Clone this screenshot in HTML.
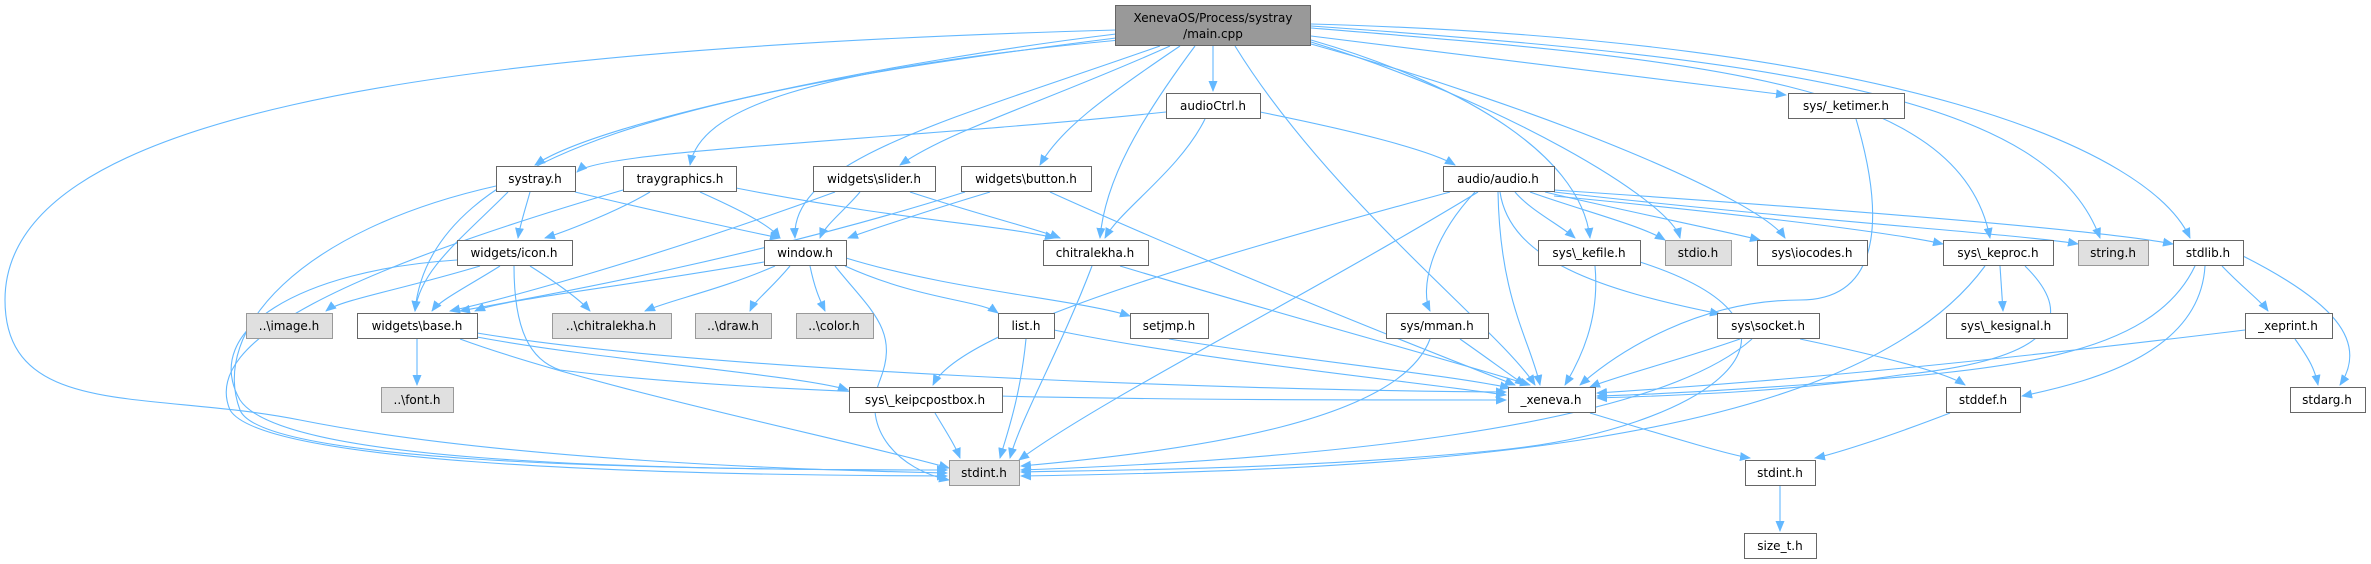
<!DOCTYPE html>
<html><head><meta charset="utf-8"><style>
html,body{margin:0;padding:0;background:#fff;}
svg{display:block;}
text{font-family:"DejaVu Sans","Liberation Sans",sans-serif;font-size:12px;fill:#000;}
.e{fill:none;stroke:#63b8ff;stroke-width:1.1;marker-end:url(#a);}
.n{fill:#fff;stroke:#666;stroke-width:1;}
.g{fill:#e0e0e0;stroke:#999;stroke-width:1;}
</style></head><body>
<svg width="2371" height="564" viewBox="0 0 2371 564" xmlns="http://www.w3.org/2000/svg">
<defs><marker id="a" markerWidth="11" markerHeight="9" refX="10" refY="4.5" orient="auto" markerUnits="userSpaceOnUse"><path d="M0,0 L11,4.5 L0,9z" fill="#63b8ff"/></marker></defs>
<g>
<path class="e" d="M1116,30 C400,50 5,120 5,300 C5,420 150,390 300,420 C500,460 800,470 947,473"/>
<path class="e" d="M1116,34 C900,60 600,120 535,165"/>
<path class="e" d="M1120,40 C800,70 700,110 690,165"/>
<path class="e" d="M1170,46 C1050,100 950,130 900,165"/>
<path class="e" d="M1180,46 C1100,100 1060,130 1040,165"/>
<path class="e" d="M1160,46 C950,120 790,160 795,238"/>
<path class="e" d="M1195,46 C1140,120 1105,180 1100,238"/>
<path class="e" d="M1213,46 L1213,91"/>
<path class="e" d="M1116,38 C700,90 430,150 415,311"/>
<path class="e" d="M1235,46 C1330,200 1500,330 1535,385"/>
<path class="e" d="M1311,40 C1450,80 1580,150 1590,238"/>
<path class="e" d="M1311,42 C1500,100 1670,200 1680,238"/>
<path class="e" d="M1311,44 C1550,110 1760,200 1785,238"/>
<path class="e" d="M1311,36 L1786,95"/>
<path class="e" d="M1311,28 C1700,60 1960,80 1990,238"/>
<path class="e" d="M1311,26 C1800,60 2050,100 2100,238"/>
<path class="e" d="M1311,24 C1900,40 2150,150 2190,238"/>
<path class="e" d="M1166,112 C900,140 600,150 577,172"/>
<path class="e" d="M1260,112 C1350,130 1430,150 1455,165"/>
<path class="e" d="M1205,119 C1180,170 1120,210 1105,238"/>
<path class="e" d="M530,192 C525,210 520,225 518,238"/>
<path class="e" d="M508,192 C460,240 420,270 415,311"/>
<path class="e" d="M575,192 C650,210 740,230 780,238"/>
<path class="e" d="M496,186 C300,230 210,330 240,410 C260,460 600,470 947,470"/>
<path class="e" d="M650,192 C620,210 570,230 545,238"/>
<path class="e" d="M700,192 C740,210 770,225 780,238"/>
<path class="e" d="M736,188 C900,220 1000,225 1055,238"/>
<path class="e" d="M623,190 C350,270 200,340 230,410 C260,460 600,475 947,476"/>
<path class="e" d="M860,192 C845,210 825,225 820,238"/>
<path class="e" d="M835,192 C650,260 500,300 450,311"/>
<path class="e" d="M910,192 C980,215 1040,230 1060,238"/>
<path class="e" d="M990,192 C930,210 870,230 848,238"/>
<path class="e" d="M965,192 C750,260 520,300 460,311"/>
<path class="e" d="M1050,192 C1200,260 1400,340 1515,385"/>
<path class="e" d="M480,266 C400,290 340,300 326,311"/>
<path class="e" d="M500,266 C470,285 440,300 432,311"/>
<path class="e" d="M530,266 C560,285 580,300 590,311"/>
<path class="e" d="M457,260 C300,270 200,330 240,400 C280,460 600,470 947,470"/>
<path class="e" d="M514,266 C514,330 530,360 560,370 C800,400 1200,400 1506,400"/>
<path class="e" d="M764,262 C600,290 500,300 475,311"/>
<path class="e" d="M775,266 C720,290 670,300 645,311"/>
<path class="e" d="M790,266 C770,290 755,300 750,311"/>
<path class="e" d="M810,266 C815,290 820,300 825,311"/>
<path class="e" d="M845,266 C920,300 980,300 998,313"/>
<path class="e" d="M846,258 C950,290 1080,300 1130,316"/>
<path class="e" d="M835,266 C870,310 900,330 880,380 C860,430 900,470 949,480"/>
<path class="e" d="M1092,266 C1060,350 1020,420 1010,458"/>
<path class="e" d="M1120,266 C1300,320 1450,360 1530,385"/>
<path class="e" d="M417,339 L417,385"/>
<path class="e" d="M460,339 C600,390 850,440 949,468"/>
<path class="e" d="M477,333 C700,370 1200,390 1506,392"/>
<path class="e" d="M477,337 C600,360 800,375 848,390"/>
<path class="e" d="M1026,339 C1020,400 1005,440 1000,458"/>
<path class="e" d="M1054,330 C1200,360 1400,380 1506,395"/>
<path class="e" d="M1169,339 C1300,360 1450,375 1510,388"/>
<path class="e" d="M935,413 C945,430 955,445 960,458"/>
<path class="e" d="M1450,192 C1200,260 960,330 933,385"/>
<path class="e" d="M1478,192 C1300,300 1100,400 1019,460"/>
<path class="e" d="M1475,192 C1430,240 1420,290 1430,311"/>
<path class="e" d="M1498,192 C1500,300 1530,340 1540,385"/>
<path class="e" d="M1500,192 C1510,260 1600,290 1720,314"/>
<path class="e" d="M1515,192 C1530,210 1560,225 1575,238"/>
<path class="e" d="M1530,192 C1580,210 1640,225 1665,240"/>
<path class="e" d="M1545,192 C1620,210 1720,230 1760,240"/>
<path class="e" d="M1554,196 C1700,210 1880,230 1943,244"/>
<path class="e" d="M1554,192 C1800,220 2030,235 2078,244"/>
<path class="e" d="M1554,190 C1850,210 2100,230 2173,244"/>
<path class="e" d="M1595,266 C1600,320 1580,360 1565,385"/>
<path class="e" d="M1640,262 C1850,330 1700,430 1500,450 C1300,470 1100,470 1021,472"/>
<path class="e" d="M1856,119 C1880,200 1890,300 1800,300 C1700,300 1620,350 1580,385"/>
<path class="e" d="M1430,339 C1400,420 1200,450 1021,466"/>
<path class="e" d="M1460,339 C1490,360 1510,375 1525,385"/>
<path class="e" d="M1740,339 C1680,360 1620,375 1590,387"/>
<path class="e" d="M1752,339 C1650,430 1300,460 1021,470"/>
<path class="e" d="M1800,339 C1900,360 1950,375 1965,385"/>
<path class="e" d="M2000,266 L2003,311"/>
<path class="e" d="M2025,266 C2080,320 2050,360 1900,375 C1800,390 1700,395 1597,398"/>
<path class="e" d="M1985,266 C1850,450 1400,470 1021,476"/>
<path class="e" d="M2222,266 C2245,290 2260,300 2268,311"/>
<path class="e" d="M2205,266 C2200,350 2100,380 2022,396"/>
<path class="e" d="M2243,256 C2330,300 2370,340 2340,385"/>
<path class="e" d="M2195,266 C2150,360 2000,370 1800,385 C1700,392 1640,395 1597,396"/>
<path class="e" d="M2245,330 C2000,360 1800,380 1597,393"/>
<path class="e" d="M2295,339 C2310,360 2315,370 2318,385"/>
<path class="e" d="M1590,413 C1680,440 1730,455 1750,458"/>
<path class="e" d="M1950,413 C1880,440 1830,455 1815,458"/>
<path class="e" d="M1780,486 L1780,531"/>
</g>
<g text-anchor="middle">
<rect x="1115.5" y="5.5" width="195" height="40" fill="#999" stroke="#666"/>
<text x="1213" y="22">XenevaOS/Process/systray</text><text x="1213" y="38">/main.cpp</text>
<rect class="n" x="1166.5" y="93.5" width="94" height="25"/><text x="1213" y="110">audioCtrl.h</text>
<rect class="n" x="1788.5" y="93.5" width="116" height="25"/><text x="1846" y="110">sys/_ketimer.h</text>
<rect class="n" x="496.5" y="166.5" width="79" height="25"/><text x="535" y="183">systray.h</text>
<rect class="n" x="623.5" y="166.5" width="113" height="25"/><text x="680" y="183">traygraphics.h</text>
<rect class="n" x="813.5" y="166.5" width="122" height="25"/><text x="874" y="183">widgets\slider.h</text>
<rect class="n" x="961.5" y="166.5" width="130" height="25"/><text x="1026" y="183">widgets\button.h</text>
<rect class="n" x="1443.5" y="166.5" width="111" height="25"/><text x="1498" y="183">audio/audio.h</text>
<rect class="n" x="457.5" y="240.5" width="115" height="25"/><text x="514" y="257">widgets/icon.h</text>
<rect class="n" x="764.5" y="240.5" width="82" height="25"/><text x="805" y="257">window.h</text>
<rect class="n" x="1043.5" y="240.5" width="105" height="25"/><text x="1095" y="257">chitralekha.h</text>
<rect class="n" x="1538.5" y="240.5" width="102" height="25"/><text x="1589" y="257">sys\_kefile.h</text>
<rect class="g" x="1665.5" y="240.5" width="66" height="25"/><text x="1698" y="257">stdio.h</text>
<rect class="n" x="1757.5" y="240.5" width="110" height="25"/><text x="1812" y="257">sys\iocodes.h</text>
<rect class="n" x="1943.5" y="240.5" width="110" height="25"/><text x="1998" y="257">sys\_keproc.h</text>
<rect class="g" x="2078.5" y="240.5" width="70" height="25"/><text x="2113" y="257">string.h</text>
<rect class="n" x="2173.5" y="240.5" width="70" height="25"/><text x="2208" y="257">stdlib.h</text>
<rect class="g" x="246.5" y="313.5" width="86" height="25"/><text x="289" y="330">..\image.h</text>
<rect class="n" x="357.5" y="313.5" width="120" height="25"/><text x="417" y="330">widgets\base.h</text>
<rect class="g" x="552.5" y="313.5" width="119" height="25"/><text x="611" y="330">..\chitralekha.h</text>
<rect class="g" x="695.5" y="313.5" width="76" height="25"/><text x="733" y="330">..\draw.h</text>
<rect class="g" x="796.5" y="313.5" width="77" height="25"/><text x="834" y="330">..\color.h</text>
<rect class="n" x="998.5" y="313.5" width="56" height="25"/><text x="1026" y="330">list.h</text>
<rect class="n" x="1130.5" y="313.5" width="78" height="25"/><text x="1169" y="330">setjmp.h</text>
<rect class="n" x="1386.5" y="313.5" width="102" height="25"/><text x="1437" y="330">sys/mman.h</text>
<rect class="n" x="1717.5" y="313.5" width="102" height="25"/><text x="1768" y="330">sys\socket.h</text>
<rect class="n" x="1946.5" y="313.5" width="121" height="25"/><text x="2006" y="330">sys\_kesignal.h</text>
<rect class="n" x="2245.5" y="313.5" width="87" height="25"/><text x="2288" y="330">_xeprint.h</text>
<rect class="g" x="381.5" y="387.5" width="72" height="25"/><text x="417" y="404">..\font.h</text>
<rect class="n" x="849.5" y="387.5" width="153" height="25"/><text x="925" y="404">sys\_keipcpostbox.h</text>
<rect class="n" x="1508.5" y="387.5" width="87" height="25"/><text x="1551" y="404">_xeneva.h</text>
<rect class="n" x="1946.5" y="387.5" width="74" height="25"/><text x="1983" y="404">stddef.h</text>
<rect class="n" x="2290.5" y="387.5" width="75" height="25"/><text x="2327" y="404">stdarg.h</text>
<rect class="g" x="949.5" y="460.5" width="70" height="25"/><text x="984" y="477">stdint.h</text>
<rect class="n" x="1745.5" y="460.5" width="70" height="25"/><text x="1780" y="477">stdint.h</text>
<rect class="n" x="1744.5" y="533.5" width="72" height="25"/><text x="1780" y="550">size_t.h</text>
</g>
</svg>
</body></html>
